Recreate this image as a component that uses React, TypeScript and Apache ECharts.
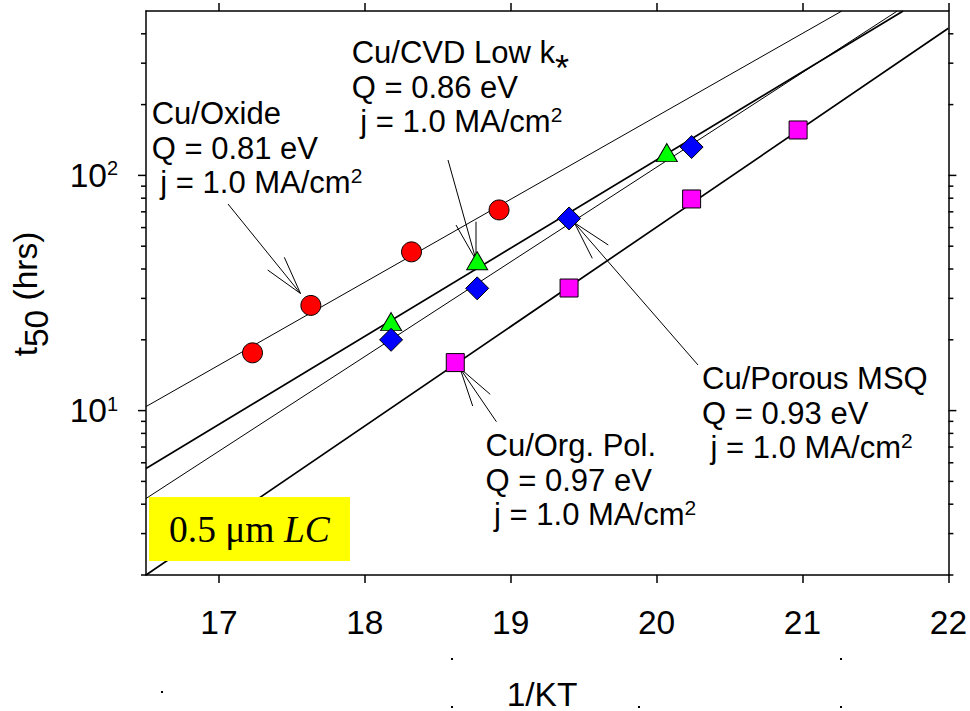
import React, { useEffect, useRef } from 'react';
import * as echarts from 'echarts';

const FONT = '"Liberation Sans", Arial, Helvetica, sans-serif';
const SERIF = '"Liberation Serif", "Times New Roman", serif';

// axis ticks
const xTickValues = [17, 18, 19, 20, 21, 22];
const yMinorTicks = [2, 3, 4, 5, 6, 7, 8, 9, 20, 30, 40, 50, 60, 70, 80, 90, 200, 300, 400];
const yMajorTicks = [10, 100];

// measured points (x = 1/KT, y = t50 hrs)
const oxideX = [17.23, 17.63, 18.32, 18.92];
const oxideY = [17.6, 28.0, 47.3, 71.3];
const cvdX = [18.18, 18.77, 20.07];
const cvdY = [23.9, 43.4, 125];
const msqX = [18.18, 18.77, 19.4, 20.24];
const msqY = [20.0, 33.1, 65.6, 132];
const orgX = [18.62, 19.4, 20.24, 20.97];
const orgY = [16.0, 33.2, 79.4, 156];

// fitted Arrhenius lines (end points)
const oxideFitX = [16.5, 21.27];
const oxideFitY = [10.4, 500];
const cvdFitX = [16.5, 21.69];
const cvdFitY = [5.67, 500];
const msqFitX = [16.5, 21.65];
const msqFitY = [4.23, 500];
const orgFitX = [16.5, 22];
const orgFitY = [2.0, 422];

const zip = (xs: number[], ys: number[]) => xs.map((x, i) => [x, ys[i]]);

const fitLine = (name: string, xs: number[], ys: number[], w: number) => ({
  type: 'line',
  name,
  data: zip(xs, ys),
  symbol: 'none',
  showSymbol: false,
  clip: true,
  silent: true,
  z: 2,
  lineStyle: { color: '#000', width: w },
});

const scatter = (name: string, xs: number[], ys: number[], symbol: string, size: any, color: string) => ({
  type: 'scatter',
  name,
  data: zip(xs, ys),
  symbol,
  symbolSize: size,
  z: 4,
  itemStyle: { color, borderColor: '#000', borderWidth: 1, opacity: 1 },
});

const txtRich = {
  a: { fontSize: 31, lineHeight: 34.5, fontFamily: FONT, color: '#000' },
  s: { fontSize: 21, lineHeight: 16, fontFamily: FONT, color: '#000', verticalAlign: 'top' },
};

const label = (x: number, y: number, l1: string, l2: string) => ({
  type: 'text',
  x,
  y,
  style: {
    text: `{a|${l1}}\n{a|${l2}}\n{a| j = 1.0 MA/cm}{s|2}`,
    rich: txtRich,
    verticalAlign: 'top',
    align: 'left',
  },
  z: 10,
});

const arrow = (sx: number, sy: number, tx: number, ty: number, b1: number[], b2: number[]) => ({
  type: 'group',
  children: [
    { type: 'line', shape: { x1: sx, y1: sy, x2: tx, y2: ty }, style: { stroke: '#000', lineWidth: 1 } },
    { type: 'polyline', shape: { points: [b1, [tx, ty], b2] }, style: { stroke: '#000', lineWidth: 1, fill: null } },
  ],
  z: 10,
});

const dot = (x: number, y: number) => ({ type: 'rect', shape: { x, y, width: 2, height: 2 }, style: { fill: '#000' } });

export default function App() {
  const ref = useRef<HTMLDivElement>(null);
  useEffect(() => {
    if (!ref.current) return;
    const chart = echarts.init(ref.current, undefined, { renderer: 'svg' });
    const axisLine = { show: true, onZero: false, lineStyle: { color: '#000', width: 1.5 } };
    const yTickData = [
      ...yMinorTicks.map((v) => [16.5, v, 0]),
      ...yMajorTicks.map((v) => [16.5, v, 1]),
    ];
    chart.setOption({
      animation: false,
      backgroundColor: '#fff',
      grid: { left: 146, top: 11, width: 805.7, height: 564, containLabel: false },
      xAxis: [
        {
          type: 'value', min: 16.5, max: 22, position: 'bottom',
          axisLine,
          axisTick: { show: true, inside: false, length: 8, customValues: xTickValues, lineStyle: { color: '#000', width: 1.5 } },
          axisLabel: { customValues: xTickValues, fontSize: 33.5, color: '#000', fontFamily: FONT, margin: 30 },
          splitLine: { show: false },
        },
        {
          type: 'value', min: 16.5, max: 22, position: 'top',
          axisLine,
          axisTick: { show: true, inside: false, length: 8, customValues: xTickValues, lineStyle: { color: '#000', width: 1.5 } },
          axisLabel: { show: false },
          splitLine: { show: false },
        },
      ],
      yAxis: [
        {
          type: 'log', logBase: 10, min: 2, max: 500, position: 'left',
          axisLine,
          axisTick: { show: false },
          splitLine: { show: false },
          axisLabel: {
            margin: 28,
            formatter: (v: number) => {
              const l = Math.log10(v);
              if (Math.abs(l - Math.round(l)) < 1e-6) return `{b|10}{s|${Math.round(l)}}`;
              return '';
            },
            rich: {
              b: { fontSize: 33.5, lineHeight: 34, fontFamily: FONT, color: '#000' },
              s: { fontSize: 20, lineHeight: 28, fontFamily: FONT, color: '#000', verticalAlign: 'top' },
            },
          },
        },
        {
          type: 'log', logBase: 10, min: 2, max: 500, position: 'right',
          axisLine,
          axisTick: { show: false },
          axisLabel: { show: false },
          splitLine: { show: false },
        },
      ],
      series: [
        fitLine('Cu/Oxide fit', oxideFitX, oxideFitY, 1),
        fitLine('Cu/CVD Low k fit', cvdFitX, cvdFitY, 1.7),
        fitLine('Cu/Porous MSQ fit', msqFitX, msqFitY, 1),
        fitLine('Cu/Org. Pol. fit', orgFitX, orgFitY, 1.7),
        scatter('Cu/Oxide', oxideX, oxideY, 'circle', 20, '#ff0000'),
        scatter('Cu/CVD Low k', cvdX, cvdY, 'triangle', [21, 18], '#00ff00'),
        scatter('Cu/Porous MSQ', msqX, msqY, 'diamond', 23, '#0000ff'),
        scatter('Cu/Org. Pol.', orgX, orgY, 'rect', 18, '#ff00ff'),
        {
          type: 'custom',
          name: 'yTicks',
          xAxisIndex: 0,
          yAxisIndex: 0,
          clip: false,
          silent: true,
          z: 5,
          data: yTickData,
          encode: { x: 0, y: 1 },
          renderItem: (params: any, api: any) => {
            const v = api.value(1);
            const major = api.value(2);
            const l = api.coord([16.5, v]);
            const r = api.coord([22, v]);
            const len = major ? 8 : 5;
            const style = { stroke: '#000', lineWidth: 1.5 };
            return {
              type: 'group',
              children: [
                { type: 'line', shape: { x1: l[0] - len, y1: l[1], x2: l[0], y2: l[1] }, style },
                { type: 'line', shape: { x1: r[0], y1: r[1], x2: r[0] + len, y2: r[1] }, style },
              ],
            };
          },
        },
      ],
      graphic: [
        label(151.7, 96.3, 'Cu/Oxide', 'Q = 0.81 eV'),
        label(351.7, 35.3, 'Cu/CVD Low k', 'Q = 0.86 eV'),
        { type: 'text', x: 555, y: 68, style: { text: '*', fontSize: 36, fontFamily: FONT, fill: '#000', verticalAlign: 'middle' }, z: 11 },
        label(702, 361.3, 'Cu/Porous MSQ', 'Q = 0.93 eV'),
        label(485.5, 428.3, 'Cu/Org. Pol.', 'Q = 0.97 eV'),
        arrow(228, 204, 300.5, 293.5, [267.7, 270], [284.3, 257.3]),
        arrow(448, 160, 476, 260, [476, 221.7], [456, 225]),
        arrow(698, 365, 574.3, 222.7, [608.3, 245], [592.3, 258.3]),
        arrow(496.4, 421.7, 460, 368.3, [490.2, 394.3], [472.7, 406]),
        { type: 'rect', shape: { x: 149, y: 497, width: 201, height: 64 }, style: { fill: '#ffff00' }, z: 9 },
        {
          type: 'text', x: 169, y: 542.3 - 0.35 * 37.5, z: 10,
          style: {
            text: '{r|0.5 μm }{i|LC}',
            verticalAlign: 'middle',
            rich: {
              r: { fontSize: 37.5, fontFamily: SERIF, color: '#000' },
              i: { fontSize: 37.5, fontFamily: SERIF, fontStyle: 'italic', color: '#000' },
            },
          },
        },
        {
          type: 'text', x: 542, y: 694, z: 10,
          style: { text: '1/KT', fontSize: 33.5, fontFamily: FONT, fill: '#000', align: 'center', verticalAlign: 'middle' },
        },
        {
          type: 'text', x: 25, y: 294, rotation: Math.PI / 2, z: 10,
          style: {
            text: '{a|t}{b|50}{a| (hrs)}',
            align: 'center',
            verticalAlign: 'middle',
            rich: {
              a: { fontSize: 33.5, lineHeight: 56, fontFamily: FONT, color: '#000' },
              b: { fontSize: 33.5, lineHeight: 32, fontFamily: FONT, color: '#000', verticalAlign: 'bottom' },
            },
          },
        },
        dot(161, 691), dot(451, 658), dot(451, 706), dot(638, 706), dot(840, 658), dot(840, 706),
      ],
    });
    return () => chart.dispose();
  }, []);
  return <div ref={ref} style={{ position: 'fixed', left: 0, top: 0, width: 970, height: 711 }} />;
}
